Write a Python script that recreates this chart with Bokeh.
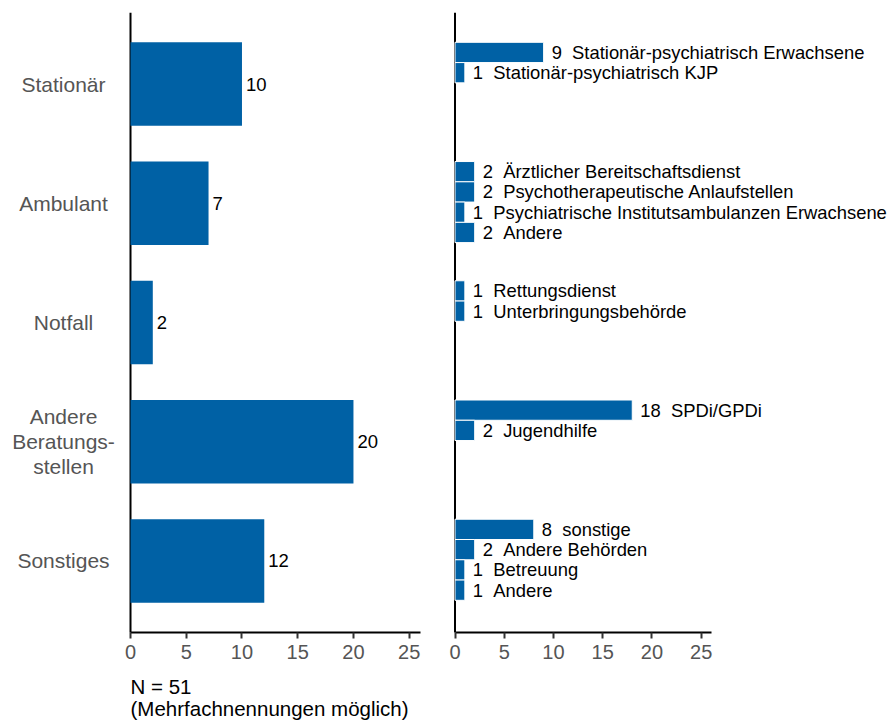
from bokeh.plotting import figure
from bokeh.models import Range1d, FixedTicker, LinearAxis, ColumnDataSource
from bokeh.layouts import row
from bokeh.embed import file_html
from bokeh.resources import INLINE
from bokeh.core.properties import value

# ---------------- data ----------------
categories = ["Stationär", "Ambulant", "Notfall", "Andere\nBeratungs-\nstellen", "Sonstiges"]
category_values = [10, 7, 2, 20, 12]

sub_group = [0, 0, 1, 1, 1, 1, 2, 2, 3, 3, 4, 4, 4, 4]
sub_rank = [0, 1, 0, 1, 2, 3, 0, 1, 0, 1, 0, 1, 2, 3]
sub_labels = ["Stationär-psychiatrisch Erwachsene", "Stationär-psychiatrisch KJP",
              "Ärztlicher Bereitschaftsdienst", "Psychotherapeutische Anlaufstellen",
              "Psychiatrische Institutsambulanzen Erwachsene", "Andere",
              "Rettungsdienst", "Unterbringungsbehörde",
              "SPDi/GPDi", "Jugendhilfe",
              "sonstige", "Andere Behörden", "Betreuung", "Andere"]
sub_values = [9, 1, 2, 2, 1, 2, 1, 1, 18, 2, 8, 2, 1, 1]

x_ticks = [0, 5, 10, 15, 20, 25]
note_lines = ["N = 51", "(Mehrfachnennungen möglich)"]

# ---------------- styling / layout ----------------
FONT = "Liberation Sans"
BLUE = "#0061A5"
GRAY = "#555555"
H = 720
TOP = 12                      # frame top (page px)
AXIS_PY = 632                 # page px of the category axis bottom
Y_TOP, Y_AXIS = -0.6, 4.6     # data extent of the drawn axes (reversed categories)
PX_Y = (AXIS_PY - TOP) / (Y_AXIS - Y_TOP)
Y_BOTTOM = Y_TOP + (H - TOP) / PX_Y
BAR_H = 0.70
SUB_H = 0.17
X_MAX = 26

W1 = 434   # left panel: page x 0..434, value 0 at page 130
W2 = 455   # right panel: page x 434..889, value 0 at page 454.5
S1 = 11.148
S2 = 9.848
X1_START, X1_END = (0 - 130) / S1, (434 - 130) / S1
X2_START, X2_END = (434 - 454.5) / S2, (889 - 454.5) / S2


def py_to_y(py):
    return Y_TOP + (py - TOP) / PX_Y


def make_fig(width, xs, xe):
    p = figure(width=width, height=H, output_backend="svg", toolbar_location=None,
               x_range=Range1d(xs, xe), y_range=Range1d(Y_BOTTOM, Y_TOP),
               x_axis_location=None, y_axis_location=None,
               min_border_left=0, min_border_right=0, min_border_top=TOP, min_border_bottom=0)
    p.outline_line_color = None
    p.grid.visible = False
    p.background_fill_color = "white"
    p.border_fill_color = "white"
    ax = LinearAxis(fixed_location=Y_AXIS, bounds=(0, X_MAX), ticker=FixedTicker(ticks=x_ticks))
    ax.minor_tick_line_color = None
    ax.axis_line_width = 2
    ax.axis_line_color = "black"
    ax.major_tick_line_color = "#333333"
    ax.major_tick_line_width = 2
    ax.major_tick_out = 6
    ax.major_tick_in = 0
    ax.major_label_standoff = 6
    ax.major_label_text_font = FONT
    ax.major_label_text_font_size = "20px"
    ax.major_label_text_color = GRAY
    p.add_layout(ax, "below")
    # vertical axis line, spanning only the category area
    p.segment(x0=[0], y0=[Y_TOP], x1=[0], y1=[Y_AXIS], line_color="black", line_width=2)
    return p


# ---------------- left panel ----------------
p1 = make_fig(W1, X1_START, X1_END)
y_main = list(range(len(categories)))
src1 = ColumnDataSource(dict(y=y_main, v=category_values, lab=categories,
                             txt=[str(v) for v in category_values],
                             lx=[(63 - 130) / S1] * len(categories)))
p1.hbar(y="y", right="v", left=0, height=BAR_H, source=src1, fill_color=BLUE, line_color=None)
p1.text(x="v", y="y", text="txt", source=src1, x_offset=4, text_baseline="middle",
        text_align="left", text_font=value(FONT), text_font_size="18.5px", text_color="black")
p1.text(x="lx", y="y", text="lab", source=src1, text_baseline="middle", text_align="center",
        text_font=value(FONT), text_font_size="21px", text_color=GRAY, text_line_height=1.08)
note_src = ColumnDataSource(dict(x=[0, 0], y=[py_to_y(686), py_to_y(708)], t=note_lines))
p1.text(x="x", y="y", text="t", source=note_src, text_baseline="middle", text_align="left",
        text_font=value(FONT), text_font_size="20.5px", text_color="black")

# ---------------- right panel ----------------
p2 = make_fig(W2, X2_START, X2_END)
sub_y = [g - BAR_H / 2 + SUB_H * (r + 0.5) for g, r in zip(sub_group, sub_rank)]
src2 = ColumnDataSource(dict(y=sub_y, v=sub_values,
                             txt=[f"{v}\u00a0\u00a0{l}" for v, l in zip(sub_values, sub_labels)]))
p2.hbar(y="y", right="v", left=0, height=SUB_H, source=src2, fill_color=BLUE,
        line_color="white", line_width=1)
p2.text(x="v", y="y", text="txt", source=src2, x_offset=8, text_baseline="middle",
        text_align="left", text_font=value(FONT), text_font_size="18.4px", text_color="black")

layout = row(p1, p2, spacing=0)
open("out.html", "w").write(file_html(layout, INLINE))
